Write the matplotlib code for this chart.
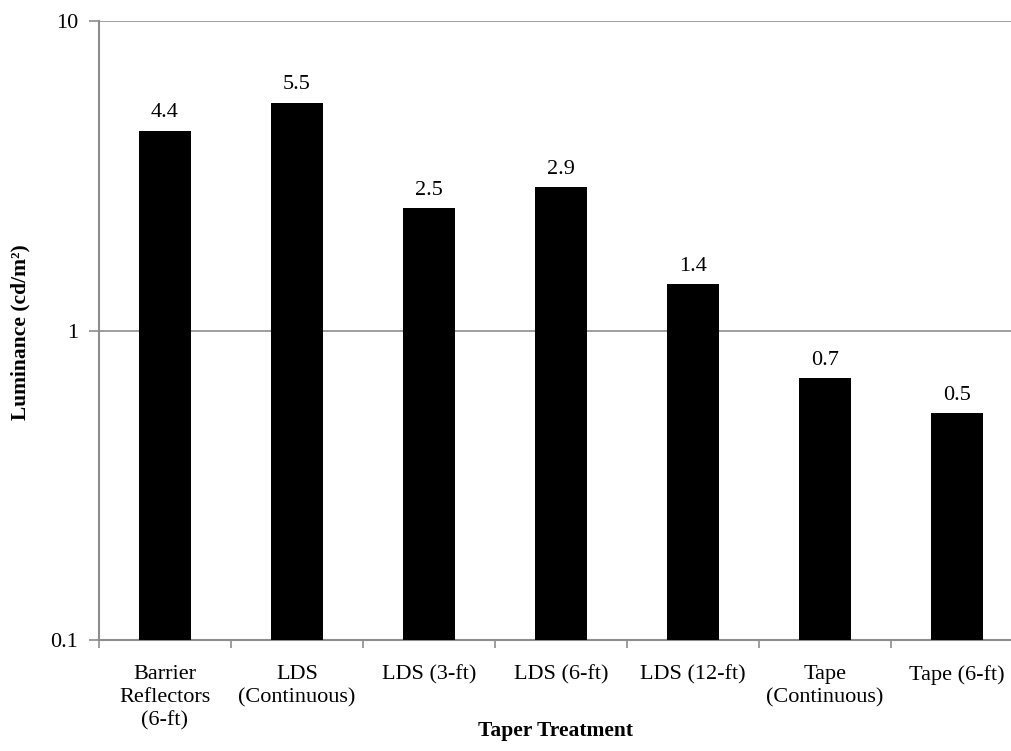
import numpy as np
import matplotlib.pyplot as plt
from matplotlib.ticker import FixedLocator, NullLocator

treatments = ["Barrier\nReflectors\n(6-ft)", "LDS\n(Continuous)", "LDS (3-ft)",
              "LDS (6-ft)", "LDS (12-ft)", "Tape\n(Continuous)", "Tape (6-ft)"]
luminance = [4.42, 5.45, 2.48, 2.91, 1.41, 0.70, 0.54]

plt.rcParams['font.family'] = ['Liberation Serif', 'DejaVu Serif']
grey = '#8c8c8c'

fig = plt.figure(figsize=(10.12, 7.51), dpi=100)
ax = fig.add_axes([99/1012, 111/751, 913/1012, 619/751])

x = np.arange(len(treatments))
ax.bar(x, luminance, width=0.40, color='black', bottom=0.0001, zorder=3)
for xi, v in zip(x, luminance):
    ax.annotate("%.1f" % v, (xi, v), xytext=(0, 6), textcoords='offset points',
                ha='center', va='bottom', fontsize=16)

ax.set_yscale('log')
ax.yaxis.set_major_locator(FixedLocator([0.1, 1, 10]))
ax.yaxis.set_minor_locator(NullLocator())
ax.set_yticklabels(['0.1', '1', '10'])
ax.grid(axis='y', color=grey, linewidth=1.2, zorder=0)

# category ticks sit on boundaries, labels sit under bars
ax.set_xticks(np.arange(len(treatments) + 1) - 0.5)
ax.set_xticklabels([])
ax.set_xticks(x, minor=True)
ax.set_xticklabels(treatments, minor=True, fontsize=16, linespacing=1.3)
ax.tick_params(axis='x', which='minor', length=0, pad=18)
ax.tick_params(axis='x', which='major', length=6, color=grey, width=1.2)
ax.tick_params(axis='y', length=7, color=grey, width=1.2, labelsize=16, pad=8)

# limits last so the boundary ticks don't widen the view
ax.set_ylim(0.1, 10)
ax.set_xlim(-0.5, -0.5 + 913/132.)

for side in ['top', 'right']:
    ax.spines[side].set_visible(False)
for side in ['left', 'bottom']:
    ax.spines[side].set_color(grey)
    ax.spines[side].set_linewidth(1.5)

fig.text(556/1012, 1 - 731/751, "Taper Treatment", fontsize=15.5, fontweight='bold',
         ha='center', va='center')
fig.text(20/1012, 1 - 332/751, "Luminance (cd/m\u00b2)", fontsize=15.5, fontweight='bold',
         ha='center', va='center', rotation=90)

fig.savefig('out.png', dpi=100)
